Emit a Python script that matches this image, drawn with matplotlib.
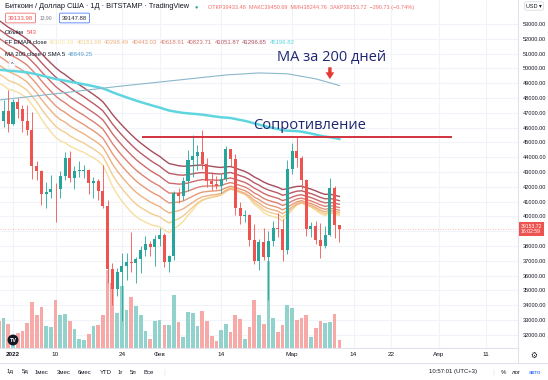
import matplotlib
matplotlib.use('Agg')
import matplotlib.pyplot as plt
from matplotlib.lines import Line2D
from matplotlib.transforms import blended_transform_factory
import numpy as np

plt.rcParams['font.family'] = ['Liberation Sans', 'DejaVu Sans']

W, H = 548, 380

# day index: 0 = 1 Jan 2022 (daily BTC/USD, Bitstamp)
days = list(range(-3, 70))
opens = [47540, 46460, 47120, 46220, 47720, 47290, 46440, 45830, 43430, 43080,
         41550, 41680, 41870, 41830, 42740, 43920, 42590, 43090, 43100, 43120,
         42250, 42380, 41700, 40700, 36450, 35080, 36280, 36660, 36950, 36840,
         37160, 37720, 38170, 37920, 38480, 38740, 36900, 37320, 41560, 41410,
         42410, 43840, 44090, 44360, 43550, 42400, 42220, 42060, 42550, 44550,
         43880, 40550, 40000, 40110, 38380, 37020, 38260, 37250, 38340, 39240,
         39130, 37710, 43180, 44420, 43920, 42450, 39140, 39390, 38420, 37990,
         38740, 41950, 39433.48]
highs = [48120, 47880, 48550, 47940, 47990, 47550, 47500, 47070, 43750, 43140,
         42300, 42780, 42250, 43100, 44350, 44440, 43430, 43780, 43480, 43180,
         42680, 42550, 43500, 41100, 36830, 36500, 37550, 37550, 38920, 37230,
         38000, 38680, 38350, 38740, 39250, 38850, 37400, 41700, 41930, 42640,
         44500, 45500, 44800, 45820, 43930, 43000, 42750, 42860, 44750, 44570,
         44200, 40950, 40450, 40140, 39480, 38450, 39250, 39000, 39700, 40230,
         39860, 43800, 44950, 45400, 44100, 42500, 39600, 39680, 39550, 39360,
         42580, 42050, 39450.69]
lows = [46100, 46060, 45680, 46210, 46650, 45700, 45520, 42500, 42450, 40750,
        40550, 41230, 39650, 41270, 42460, 42330, 41860, 42640, 42620, 41550,
        41270, 41140, 40580, 35520, 34010, 34620, 32950, 35700, 36250, 35500,
        36160, 37330, 37360, 36630, 38000, 36600, 36250, 37050, 40930, 41100,
        41700, 42670, 43140, 43200, 42000, 41760, 41880, 41570, 42430, 43310,
        40100, 39470, 39650, 38000, 36800, 36370, 37050, 34330, 38000, 38580,
        37000, 37460, 42850, 43350, 41850, 38650, 38590, 38120, 37200, 37880,
        38650, 38550, 38244.76]
closes = [46460, 47120, 46220, 47720, 47290, 46440, 45830, 43430, 43080, 41550,
          41680, 41870, 41830, 42740, 43920, 42590, 43090, 43100, 43120, 42250,
          42380, 41700, 40700, 36450, 35080, 36280, 36660, 36950, 36840, 37160,
          37720, 38170, 37920, 38480, 38740, 36900, 37320, 41560, 41410, 42410,
          43840, 44090, 44360, 43550, 42400, 42220, 42060, 42550, 44550, 43880,
          40550, 40000, 40110, 38380, 37020, 38260, 37250, 38340, 39240, 39130,
          37710, 43180, 44420, 43920, 42450, 39140, 39390, 38420, 37990, 38740,
          41950, 39430, 39153.72]
volumes = [1900, 2100, 1700, 900, 1050, 1200, 1750, 3200, 2300, 2850,
           1550, 1450, 3350, 2300, 2400, 1900, 1350, 650, 550, 1000,
           1550, 1600, 2300, 5450, 4550, 2450, 4350, 2650, 3550, 2950,
           2300, 1200, 650, 1900, 1950, 1600, 1600, 3700, 1800, 770,
           2500, 2450, 1550, 2600, 1900, 850, 500, 1250, 1700, 1100,
           2300, 2050, 650, 1450, 3350, 2300, 1700, 6100, 2100, 1100,
           1600, 3000, 2800, 1950, 2100, 2300, 770, 1400, 1900, 1750,
           1800, 2400, 543]

# indicator settings and their values just left of the first bar
ribbon_periods = [20, 25, 30, 35, 40, 45, 50, 55]
ribbon_start = [49300, 49900, 50500, 51100, 51700, 52300, 52900, 53500]
ribbon_colors = ['#f6dfa0', '#f3cd8e', '#eeb282', '#e69878', '#dc8072',
                 '#cc6a6b', '#ba5a64', '#a64d5c']
long_period, long_start = 200, 49950

# 200-day SMA
sma_days = [-3, 10, 22, 35, 45, 52, 58, 64, 69]
sma_vals = [47870, 48330, 48780, 49220, 49560, 49700, 49640, 49300, 48849]

resist_level = 45400
resist_days = (27.3, 92.8)

tick_days = [0, 9, 23, 31, 44, 59, 72, 80, 90, 100]
tick_labels = ['2022', '10', '24', 'Фев', '14', 'Мар', '14', '22', 'Апр', '11']
price_ticks = list(range(32000, 54000, 1000))

header_vals = ['40100.19', '40181.68', '40298.49', '40443.03', '40618.91',
               '40823.71', '41051.87', '41296.65', '45196.82']

up, down = '#26a69a', '#ef5350'
vol_up, vol_down = '#92d2cc', '#f7a9a7'
ink = '#131722'
grid_c = '#f0f3fa'
line_c = '#e0e3eb'


def ema(values, period, start):
    a = 2 / (period + 1)
    out, e = [], start
    for v in values:
        e = a * v + (1 - a) * e
        out.append(e)
    return out


def fx(x):
    return x / W


def fy(y):
    return 1 - y / H


fig = plt.figure(figsize=(W / 100, H / 100), dpi=100)
rect = [0, fy(348), fx(518), 348 / H]
xlim = (-2.75, 106.77)
ylim = (31113, 54627)

# grid
gax = fig.add_axes(rect)
gax.set(xlim=xlim, ylim=ylim)
gax.axis('off')
gax.vlines(tick_days, *ylim, color=grid_c, lw=0.8)
gax.hlines(price_ticks, *xlim, color=grid_c, lw=0.8)

d = np.array(days)
o, hi, lo, c = map(np.array, (opens, highs, lows, closes))
rising = c >= o

# volume
vax = fig.add_axes(rect)
vax.set(xlim=xlim, ylim=(0, 348 * 70))
vax.axis('off')
vax.bar(d, volumes, width=0.78, color=np.where(rising, vol_up, vol_down), linewidth=0)

ax = fig.add_axes(rect)
ax.patch.set_visible(False)
ax.set(xlim=xlim, ylim=ylim)

for per, st, col in zip(ribbon_periods, ribbon_start, ribbon_colors):
    ax.plot(d, ema(closes, per, st), color=col, lw=1.0, zorder=2)
ax.plot(d, ema(closes, long_period, long_start), color='#5fd6df', lw=1.8, zorder=2)
ax.plot(sma_days, sma_vals, color='#8ab7cc', lw=0.8, zorder=2)

cols = np.where(rising, up, down)
ax.vlines(d, lo, hi, colors=cols, lw=0.6, zorder=3)
ax.bar(d, np.maximum(np.abs(c - o), 25), bottom=np.minimum(o, c), width=0.64,
       color=cols, linewidth=0, zorder=4)

last = closes[-1]
ax.axhline(last, color=down, lw=0.6, ls=(0, (1, 2)), alpha=0.5, zorder=1)

ax.hlines(resist_level, *resist_days, color='#d3323f', lw=1.4, zorder=5)
ax.text(62.8, 46180, 'Сопротивление', ha='center', va='center', fontsize=10.5,
        color='#1f2670', family='Open Sans', zorder=6)
ax.text(67.4, 50775, 'МА за 200 дней', ha='center', va='center', fontsize=10.5,
        color='#1f2670', family='Open Sans', zorder=6)
ax.annotate('', xy=(67, 49280), xytext=(67, 50080),
            arrowprops=dict(arrowstyle='simple,head_width=0.9,head_length=0.7,tail_width=0.35',
                            color='#e53935', lw=0, mutation_scale=7, shrinkA=0, shrinkB=0),
            zorder=6)

# axes
for s in ('top', 'left'):
    ax.spines[s].set_visible(False)
for s in ('right', 'bottom'):
    ax.spines[s].set_color(line_c)
    ax.spines[s].set_linewidth(0.8)
ax.set_xticks(tick_days, tick_labels)
ax.get_xticklabels()[0].set_fontweight('bold')
ax.tick_params(axis='x', length=0, pad=2.8, labelsize=4.6, labelcolor=ink)
ax.yaxis.tick_right()
shown = [p for p in price_ticks if p != 39000]
ax.set_yticks(shown, [f'{p:.2f}' for p in shown])
ax.tick_params(axis='y', length=0, pad=3.6, labelsize=4.0, labelcolor=ink)

tr = blended_transform_factory(ax.transAxes, ax.transData)
ax.text(1 + 2.5 / 518, last, f'{last:.2f}\n16:02:59', transform=tr, ha='left',
        va='center', fontsize=3.7, color='white', linespacing=1.1,
        bbox=dict(boxstyle='square,pad=0.35', fc=down, ec='none'), clip_on=False)

# header legend
fig.text(fx(5), fy(7), 'Биткоин / Доллар США · 1Д · BITSTAMP · TradingView',
         fontsize=5.3, color=ink, va='center')
fig.text(fx(196), fy(7), '●', fontsize=4, color=up, ha='center', va='center')
fig.text(fx(208), fy(7), 'ОТКР39433.48  МАКС39450.69  МИН38244.76  ЗАКР39153.72  −290.73 (−0.74%)',
         fontsize=4.0, color='#ef6f6c', va='center')
fig.text(fx(20.5), fy(18), '39133.98', ha='center', va='center', fontsize=4.3, color=down,
         bbox=dict(boxstyle='round,pad=0.4,rounding_size=0.2', fc='white', ec=down, lw=0.5))
fig.text(fx(46), fy(18), '13.90', ha='center', va='center', fontsize=3.6, color='#787b86')
fig.text(fx(74.5), fy(18), '39147.88', ha='center', va='center', fontsize=4.3, color='#2a2e39',
         bbox=dict(boxstyle='round,pad=0.4,rounding_size=0.2', fc='white', ec='#2962ff', lw=0.5))
fig.text(fx(5), fy(32), 'Объём', fontsize=4.3, color=ink, va='center')
fig.text(fx(27), fy(32), '543', fontsize=4.3, color=down, va='center')
fig.text(fx(5), fy(43), 'FF EMAR close', fontsize=4.3, color=ink, va='center')
for i, (v, col) in enumerate(zip(header_vals, ribbon_colors + ['#5fd6df'])):
    fig.text(fx(49 + i * 27.6), fy(43), v, fontsize=4.3, color=col, va='center')
fig.text(fx(5), fy(55), 'MA 200 close 0 SMA 5', fontsize=4.3, color=ink, va='center')
fig.text(fx(68), fy(55), '48849.25', fontsize=4.3, color='#5aa0d0', va='center')
fig.text(fx(12), fy(65), '^', fontsize=4, color=ink, ha='center', va='center',
         bbox=dict(boxstyle='round,pad=0.3', fc='white', ec=line_c, lw=0.5))
fig.text(fx(534), fy(6), 'USD ▾', fontsize=4, color=ink, ha='center', va='center',
         bbox=dict(boxstyle='round,pad=0.3', fc='white', ec='#d1d4dc', lw=0.5))
fig.text(fx(13), fy(340), 'TV', fontsize=4, color='white', weight='bold', ha='center',
         va='center', bbox=dict(boxstyle='circle,pad=0.35', fc=ink, ec='none'))

# bottom bar
fig.add_artist(Line2D([0, 1], [fy(363)] * 2, color=line_c, lw=0.8))
fig.add_artist(Line2D([fx(518)] * 2, [fy(348), fy(363)], color=line_c, lw=0.8))
fig.text(fx(534), fy(355), '⚙', fontsize=5.5, color=ink, ha='center', va='center',
         family='DejaVu Sans')
for x, s in [(7, '1д'), (22, '5д'), (35, '1мес'), (57, '3мес'), (78, '6мес'),
             (100, 'YTD'), (118, '1г'), (130, '5л'), (144, 'Все')]:
    fig.text(fx(x), fy(372), s, fontsize=4.3, color=ink, va='center')
fig.text(fx(163), fy(372), '|', fontsize=5, color=line_c, va='center')
fig.text(fx(429), fy(372), '10:57:01 (UTC+3)', fontsize=4.3, color=ink, va='center')
fig.text(fx(492), fy(372), '|', fontsize=5, color=line_c, va='center')
fig.text(fx(501), fy(372), '%', fontsize=4.3, color=ink, va='center')
fig.text(fx(511), fy(372), 'лог', fontsize=4.3, color=ink, va='center')
fig.text(fx(529), fy(372), 'авто', fontsize=4.3, color='#2962ff', va='center')

fig.savefig('out.png', dpi=100)
